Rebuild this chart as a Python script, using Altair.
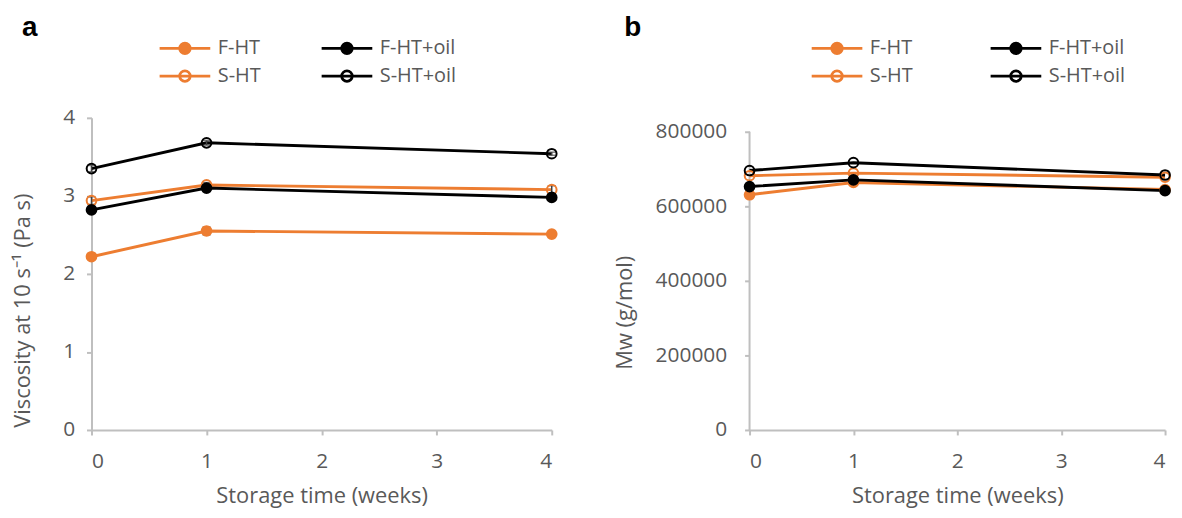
import altair as alt
import pandas as pd

# ---------------- data ----------------
weeks = [0, 1, 4]
series = ["F-HT", "S-HT", "F-HT+oil", "S-HT+oil"]

# panel a: viscosity at 10 s^-1 (Pa s)
visc_fht = [2.22, 2.55, 2.51]
visc_sht = [2.94, 3.14, 3.08]
visc_fht_oil = [2.82, 3.10, 2.98]
visc_sht_oil = [3.35, 3.68, 3.54]
visc_err_fht = [0.02, 0.05, 0.02]
visc_err_sht = [0.05, 0.03, 0.05]
visc_err_fht_oil = [0.03, 0.03, 0.03]
visc_err_sht_oil = [0.04, 0.03, 0.02]

# panel b: Mw (g/mol)
mw_fht = [631000, 664000, 645000]
mw_sht = [682000, 689000, 678000]
mw_fht_oil = [653000, 671000, 642000]
mw_sht_oil = [696000, 717000, 684000]

x_ticks = [0, 1, 2, 3, 4]
visc_ticks = [0, 1, 2, 3, 4]
mw_ticks = [0, 200000, 400000, 600000, 800000]

ORANGE = "#ED7D31"
BLACK = "#000000"
GREY = "#595959"
AXIS = "#BFBFBF"
FONT = "Open Sans"


def long_table(vals, errs=None):
    rows = []
    for i, s in enumerate(series):
        for j, w in enumerate(weeks):
            e = errs[i][j] if errs else 0.0
            rows.append({"week": w, "series": s, "value": vals[i][j],
                         "lo": vals[i][j] - e, "hi": vals[i][j] + e})
    return pd.DataFrame(rows)


df_a = long_table([visc_fht, visc_sht, visc_fht_oil, visc_sht_oil],
                  [visc_err_fht, visc_err_sht, visc_err_fht_oil, visc_err_sht_oil])
df_b = long_table([mw_fht, mw_sht, mw_fht_oil, mw_sht_oil])

stroke_scale = alt.Scale(domain=series, range=[ORANGE, ORANGE, BLACK, BLACK])
fill_scale = alt.Scale(domain=series, range=[ORANGE, "transparent", BLACK, "transparent"])

SYMBOL = "M-3.92,0H3.92M0.82,0A0.82,0.82,0,1,1,-0.82,0A0.82,0.82,0,1,1,0.82,0Z"


def make_legend(legend_x, col_pad):
    return alt.Legend(
        title=None, orient="none", legendX=legend_x, legendY=-80,
        columns=2, columnPadding=col_pad, rowPadding=6, padding=0,
        symbolType=SYMBOL, symbolSize=169, symbolStrokeWidth=2.75,
        symbolOffset=19, labelOffset=23,
        labelFont=FONT, labelFontSize=20, labelColor=GREY,
    )


def panel(df, width, height, ydom, yvals, ytitle, titleY, ylabpad, ytitlepad,
          label, label_dx, legend_x, col_pad, with_err, rule_top=None):
    x = alt.X("week:Q", scale=alt.Scale(domain=[0, 4], nice=False),
              axis=alt.Axis(values=x_ticks, title="Storage time (weeks)",
                            labelPadding=16, titlePadding=14, format="d"))
    yaxis = alt.Axis(values=yvals, title=ytitle, titleY=titleY, format="d",
                     labelPadding=ylabpad, titlePadding=ytitlepad,
                     domain=(rule_top is None))
    y = alt.Y("value:Q", scale=alt.Scale(domain=ydom, nice=False, zero=True), axis=yaxis)

    leg = make_legend(legend_x, col_pad)

    base = alt.Chart(df)
    lines = base.mark_line(strokeWidth=2.9).encode(
        x=x, y=y, detail="series:N",
        stroke=alt.Stroke("series:N", scale=stroke_scale, legend=leg),
    )
    layers = []
    if rule_top is not None:
        axis_df = pd.DataFrame({"y0": [0], "y1": [rule_top]})
        layers.append(alt.Chart(axis_df).mark_rule(color=AXIS, strokeWidth=2).encode(
            x=alt.value(0), y=alt.Y("y0:Q"), y2="y1:Q"))
    layers.append(lines)
    if with_err:
        layers.append(base.mark_rule(color="#404040", strokeWidth=1.5).encode(
            x="week:Q", y="lo:Q", y2="hi:Q"))
        layers.append(base.mark_tick(color="#404040", thickness=1.5, size=8,
                                     orient="horizontal").encode(x="week:Q", y="lo:Q"))
        layers.append(base.mark_tick(color="#404040", thickness=1.5, size=8,
                                     orient="horizontal").encode(x="week:Q", y="hi:Q"))
    points = base.mark_point(shape="circle", size=95, strokeWidth=2, opacity=1).encode(
        x="week:Q", y="value:Q",
        stroke=alt.Stroke("series:N", scale=stroke_scale, legend=leg),
        fill=alt.Fill("series:N", scale=fill_scale, legend=leg),
    )
    layers.append(points)
    return alt.layer(*layers).properties(
        width=width, height=height,
        title=alt.TitleParams(label, anchor="start", frame="group", dx=label_dx, dy=28,
                              font="Liberation Sans", fontSize=28, fontWeight="bold",
                              color="black", baseline="alphabetic", offset=2),
    )


pa = panel(df_a, 463, 314, [0, 4], visc_ticks, "Viscosity at 10 s\u207b\u00b9 (Pa s)",
           193.5, 12, 28, "a", -70, 65, 55, True)
pb = panel(df_b, 418, 314, [0, 800000 * 314 / 300], mw_ticks, "Mw (g/mol)",
           195.5, 18, 19, "b", -126, 59, 72, False, rule_top=800000)

chart = alt.hconcat(pa, pb, spacing=52).resolve_scale(
    stroke="independent", fill="independent"
).resolve_legend(stroke="independent", fill="independent").properties(
    padding={"left": 3, "top": 5, "right": 0, "bottom": 0}
).configure_view(stroke=None).configure_axis(
    grid=False, labelFont=FONT, labelFontSize=21, labelColor=GREY,
    titleFont=FONT, titleFontSize=22, titleColor=GREY, titleFontWeight="normal",
    domainColor=AXIS, domainWidth=2, tickColor=AXIS, tickWidth=2, tickSize=5,
)

chart.save("out.html", embed_options={"renderer": "svg", "actions": False})
